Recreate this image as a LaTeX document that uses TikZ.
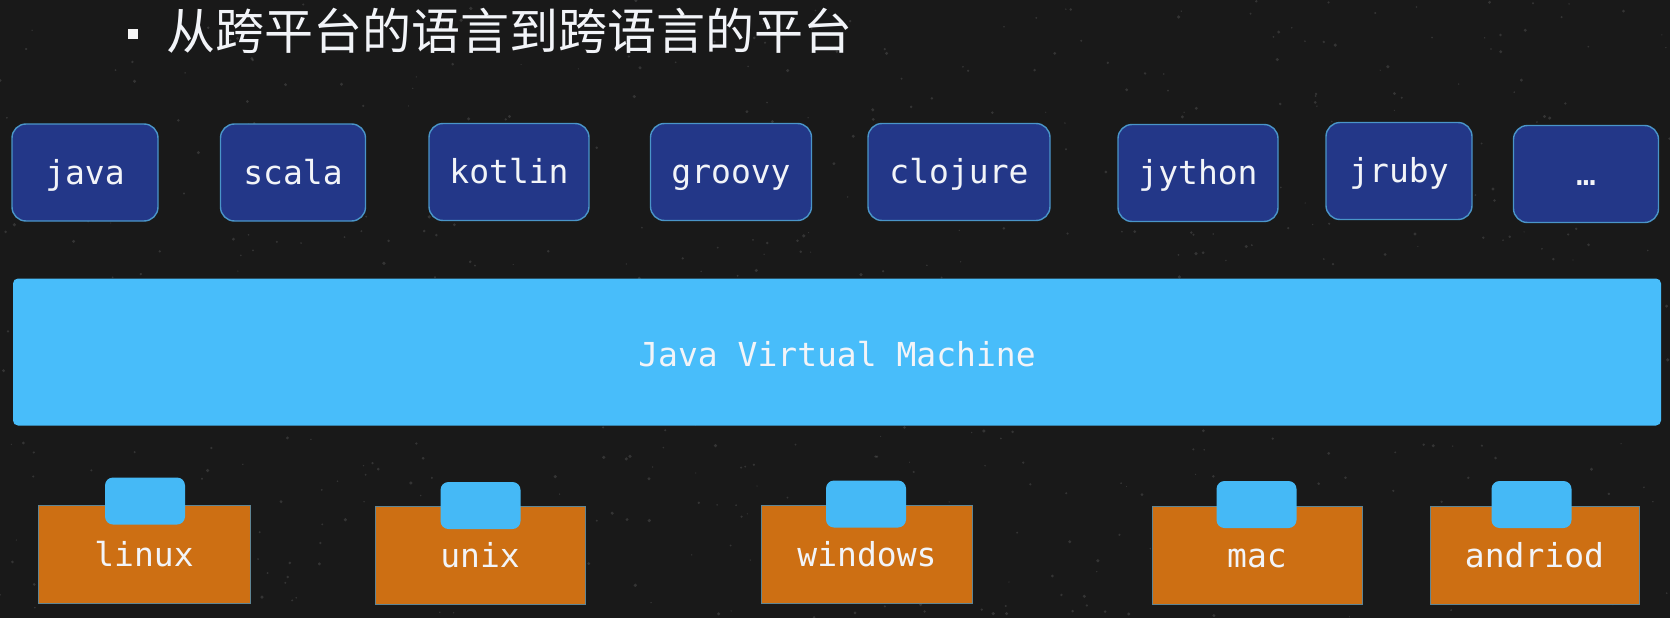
\documentclass[tikz,border=0pt]{standalone}
\usepackage{fontspec}
\newfontfamily\cjk{Noto Sans CJK SC}
\newfontfamily\mono{DejaVu Sans Mono}
\definecolor{bgc}{HTML}{191919}
\definecolor{navy}{HTML}{233788}
\definecolor{navyedge}{HTML}{4A95C8}
\definecolor{jvmblue}{HTML}{48BDFA}
\definecolor{tabblue}{HTML}{45B9F6}
\definecolor{orangec}{HTML}{CD6F13}
\definecolor{orangeedge}{HTML}{5F8594}
\definecolor{txt}{HTML}{F2F4F8}
\begin{document}
\begin{tikzpicture}[x=1pt,y=-1pt,
  lang/.style={draw=navyedge, line width=1.4pt, fill=navy, rounded corners=14pt,
    minimum height=97pt, text=txt, font=\mono\fontsize{33}{36}\selectfont,
    text height=30pt, text depth=7pt, inner sep=0pt},
  jvm/.style={fill=jvmblue, rounded corners=5pt, minimum width=1648pt, minimum height=147pt,
    text=txt, font=\mono\fontsize{33}{36}\selectfont, text height=34pt, text depth=6pt, inner sep=0pt},
  osbox/.style={draw=orangeedge, line width=1pt, fill=orangec, minimum height=98pt,
    text=txt, font=\mono\fontsize{33}{36}\selectfont, text height=30pt, text depth=6pt, inner sep=0pt},
  ostab/.style={fill=tabblue, rounded corners=8pt, minimum width=80pt, minimum height=47pt, inner sep=0pt},
  speck/.style={fill=white, opacity=0.12}
]
\fill[bgc] (0,0) rectangle (1670,618);
\useasboundingbox (0,0) rectangle (1670,618);
% chalkboard grain
\pgfmathsetseed{7}
\foreach \i in {1,...,700}{
  \pgfmathsetmacro{\sx}{rnd*1670}
  \pgfmathsetmacro{\sy}{rnd*618}
  \pgfmathsetmacro{\sr}{0.6+rnd*1.2}
  \fill[speck] (\sx,\sy) circle[radius=\sr];
}

% title
\fill[white!92!gray] (128,29) rectangle (138,39);
\node[anchor=base west, inner sep=0pt, text=txt, font=\cjk\fontsize{49}{53}\selectfont] (title) at (166,49.5) {从跨平台的语言到跨语言的平台};

% languages
\node[lang, minimum width=146pt] (java) at (85,172.5) {java};
\node[lang, minimum width=145pt] (scala) at (293,172.5) {scala};
\node[lang, minimum width=160pt] (kotlin) at (509,172) {kotlin};
\node[lang, minimum width=161pt] (groovy) at (731,172) {groovy};
\node[lang, minimum width=182pt] (clojure) at (959,172) {clojure};
\node[lang, minimum width=160pt] (jython) at (1198,173) {jython};
\node[lang, minimum width=146pt] (jruby) at (1399,171) {jruby};
\node[lang, minimum width=145pt] (more) at (1586,174) {…};

% JVM
\node[jvm] (jvmbar) at (837,352) {Java Virtual Machine};

% operating systems
\node[osbox, minimum width=212pt] (linux) at (144,554) {linux};
\node[osbox, minimum width=210pt] (unix) at (480,555) {unix};
\node[osbox, minimum width=211pt] (windows) at (867,554) {windows};
\node[osbox, minimum width=210pt] (mac) at (1257,555.5) {mac};
\node[osbox, minimum width=209pt] (andriod) at (1534.5,555.5) {andriod};

\node[ostab] (linuxtab) at (145,501) {};
\node[ostab] (unixtab) at (480.5,505.5) {};
\node[ostab] (windowstab) at (866,504) {};
\node[ostab] (mactab) at (1256.5,504.5) {};
\node[ostab] (andriodtab) at (1531.5,504.5) {};
\end{tikzpicture}
\end{document}
